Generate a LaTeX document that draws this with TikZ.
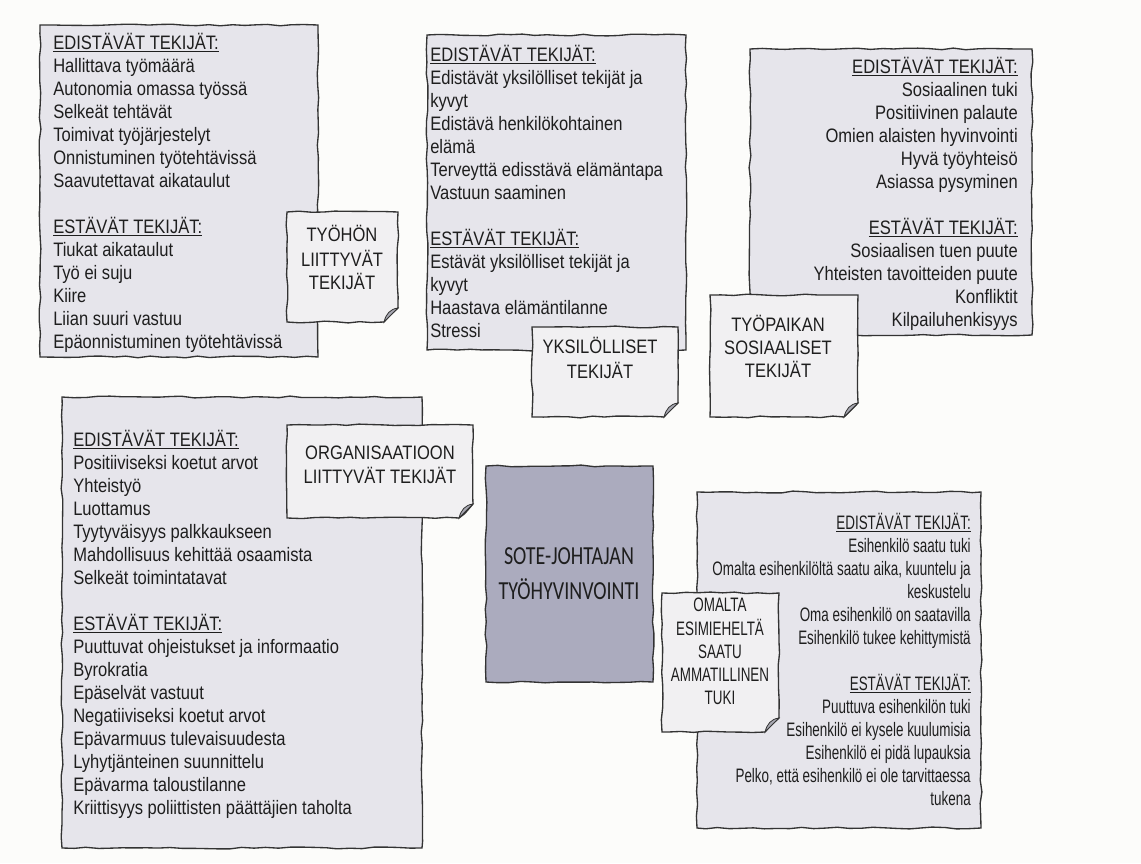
\documentclass[tikz,border=0pt]{standalone}
\usepackage{fontspec}
\setmainfont[FakeStretch=0.85]{Liberation Sans}
\newfontfamily\titlefont[FakeStretch=0.77]{Carlito}
\newfontfamily\narrowfont[FakeStretch=0.69]{Liberation Sans}
\usetikzlibrary{decorations.pathmorphing}
\definecolor{sheet_bg}{HTML}{FCFCFA}
\definecolor{sheet_fill}{HTML}{E6E5EB}
\definecolor{note_fill}{HTML}{F1F0F2}
\definecolor{core_fill}{HTML}{ABABBE}
\definecolor{fold_gray}{HTML}{A8A8B2}
\definecolor{sheet_line}{HTML}{333333}
\definecolor{text_dark}{HTML}{1E1E1E}

\tikzset{
    sheet/.style={draw=sheet_line, line width=1pt, fill=sheet_fill, decorate,
        decoration={random steps, segment length=9pt, amplitude=0.7pt}},
    note/.style={sheet, fill=note_fill},
    core/.style={sheet, fill=core_fill},
    fold/.style={fill=fold_gray, draw=sheet_line, line width=0.6pt},
    txt/.style={inner sep=0pt, text=text_dark, font=\fontsize{14.6pt}{17.25pt}\selectfont},
    narrowtxt/.style={txt, font=\narrowfont\fontsize{14.6pt}{17.25pt}\selectfont},
}

% sticky note with a curled lower right corner
\newcommand{\stickynote}[4]{%
    \draw[note] (#1,#2) -- (#3,#2) -- (#3,{#4-14}) -- ({#3-14},#4) -- (#1,#4) -- cycle;
    \filldraw[fold] (#3,{#4-14}) .. controls ({#3-8},{#4-13}) and ({#3-12},{#4-8}) .. ({#3-14},#4) -- cycle;
}

\begin{document}
\begin{tikzpicture}[x=0.75pt, y=-0.75pt]
        \pgfmathsetseed{11}
        \fill[sheet_bg] (0,0) rectangle (1141,863);
        \useasboundingbox (0,0) rectangle (1141,863);

        % tyohon liittyvat
        \draw[sheet] (40,25) -- (318,25) -- (318,357) -- (40,357) -- cycle;
        \node[txt, anchor=north west, align=left] (tyo-text) at (53,33) {\strut\underline{EDISTÄVÄT TEKIJÄT:}\\
            Hallittava työmäärä\\ Autonomia omassa työssä\\ Selkeät tehtävät\\ Toimivat työjärjestelyt\\
            Onnistuminen työtehtävissä\\ Saavutettavat aikataulut\\[17.25pt]
            \underline{ESTÄVÄT TEKIJÄT:}\\ Tiukat aikataulut\\ Työ ei suju\\ Kiire\\ Liian suuri vastuu\\
            Epäonnistuminen työtehtävissä};
        \stickynote{287}{212}{398}{322}
        \node[txt, anchor=north, align=center] (tyo-label) at (342,225) {\strut TYÖHÖN\\ LIITTYVÄT\\ TEKIJÄT};

        % yksilolliset
        \draw[sheet] (427,35) -- (686,35) -- (686,350) -- (427,350) -- cycle;
        \node[txt, anchor=north west, align=left] (yks-text) at (430,45) {\strut\underline{EDISTÄVÄT TEKIJÄT:}\\
            Edistävät yksilölliset tekijät ja\\ kyvyt\\ Edistävä henkilökohtainen\\ elämä\\
            Terveyttä edisstävä elämäntapa\\ Vastuun saaminen\\[17.25pt]
            \underline{ESTÄVÄT TEKIJÄT:}\\ Estävät yksilölliset tekijät ja\\ kyvyt\\
            Haastava elämäntilanne\\ Stressi};
        \stickynote{532}{327}{678}{417}
        \node[txt, anchor=north, align=center] (yks-label) at (600,337) {\strut YKSILÖLLISET\\ TEKIJÄT};

        % tyopaikan sosiaaliset
        \draw[sheet] (750,49) -- (1032,49) -- (1032,335) -- (750,335) -- cycle;
        \node[txt, anchor=north east, align=right] (sos-text) at (1018,57) {\strut\underline{EDISTÄVÄT TEKIJÄT:}\\
            Sosiaalinen tuki\\ Positiivinen palaute\\ Omien alaisten hyvinvointi\\ Hyvä työyhteisö\\
            Asiassa pysyminen\\[17.25pt]
            \underline{ESTÄVÄT TEKIJÄT:}\\ Sosiaalisen tuen puute\\ Yhteisten tavoitteiden puute\\
            Konfliktit\\ Kilpailuhenkisyys};
        \stickynote{710}{295}{858}{417}
        \node[txt, anchor=north, align=center] (sos-label) at (778,315) {\strut TYÖPAIKAN\\ SOSIAALISET\\ TEKIJÄT};

        % organisaatioon liittyvat
        \draw[sheet] (62,397) -- (422,397) -- (422,848) -- (62,848) -- cycle;
        \node[txt, anchor=north west, align=left] (org-text) at (73,430) {\strut\underline{EDISTÄVÄT TEKIJÄT:}\\
            Positiiviseksi koetut arvot\\ Yhteistyö\\ Luottamus\\ Tyytyväisyys palkkaukseen\\
            Mahdollisuus kehittää osaamista\\ Selkeät toimintatavat\\[17.25pt]
            \underline{ESTÄVÄT TEKIJÄT:}\\ Puuttuvat ohjeistukset ja informaatio\\ Byrokratia\\
            Epäselvät vastuut\\ Negatiiviseksi koetut arvot\\ Epävarmuus tulevaisuudesta\\
            Lyhytjänteinen suunnittelu\\ Epävarma taloustilanne\\ Kriittisyys poliittisten päättäjien taholta};
        \stickynote{287}{425}{473}{518}
        \node[txt, anchor=north, align=center] (org-label) at (380,443) {\strut ORGANISAATIOON\\ LIITTYVÄT TEKIJÄT};

        % keskus
        \draw[core] (486,466) -- (653,466) -- (653,682) -- (486,682) -- cycle;
        \node[inner sep=0pt, anchor=north, align=center, text=text_dark,
            font=\titlefont\fontsize{19.5pt}{26.25pt}\selectfont] (title) at (569,540) {\strut SOTE-JOHTAJAN\\ TYÖHYVINVOINTI};

        % esimiehen tuki
        \draw[sheet] (697,492) -- (981,492) -- (981,828) -- (697,828) -- cycle;
        \node[narrowtxt, anchor=north east, align=right] (esi-text) at (971,513) {\strut\underline{EDISTÄVÄT TEKIJÄT:}\\
            Esihenkilö saatu tuki\\ Omalta esihenkilöltä saatu aika, kuuntelu ja\\ keskustelu\\
            Oma esihenkilö on saatavilla\\ Esihenkilö tukee kehittymistä\\[17.25pt]
            \underline{ESTÄVÄT TEKIJÄT:}\\ Puuttuva esihenkilön tuki\\ Esihenkilö ei kysele kuulumisia\\
            Esihenkilö ei pidä lupauksia\\ Pelko, että esihenkilö ei ole tarvittaessa\\ tukena};
        \stickynote{662}{593}{779}{732}
        \node[narrowtxt, anchor=north, align=center] (esi-label) at (720,595) {\strut OMALTA\\ ESIMIEHELTÄ\\ SAATU\\ AMMATILLINEN\\ TUKI};

\end{tikzpicture}
\end{document}
